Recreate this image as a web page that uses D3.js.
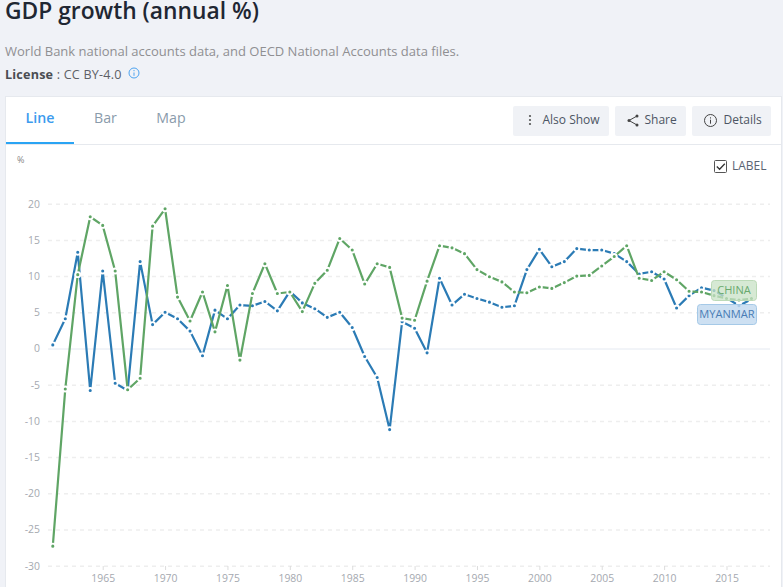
<!DOCTYPE html>
<html><head><meta charset="utf-8">
<script src="https://d3js.org/d3.v7.min.js"></script>
<style>
html,body{margin:0;padding:0;background:#f0f2f7;overflow:hidden}
svg{display:block;font-family:"Open Sans",sans-serif}
</style></head><body><div id="chart"></div>
<script>
const years = d3.range(1961, 2018);
const china = [-27.3,-5.6,10.2,18.2,17.0,10.7,-5.7,-4.1,16.9,19.3,7.1,3.8,7.8,2.3,8.7,-1.6,7.6,11.7,7.6,7.8,5.1,9.0,10.8,15.2,13.6,8.9,11.7,11.2,4.2,3.9,9.3,14.2,13.9,13.1,10.9,9.9,9.2,7.8,7.7,8.5,8.3,9.1,10.0,10.1,11.4,12.7,14.2,9.7,9.4,10.6,9.5,7.9,7.8,7.3,6.9,6.7,6.9];
const myanmar = [0.5,4.1,13.3,-5.8,10.7,-4.8,-5.8,12.0,3.3,5.0,4.1,2.4,-1.0,5.3,4.1,6.0,5.9,6.5,5.2,7.9,6.3,5.5,4.3,5.0,2.9,-1.1,-4.0,-11.2,3.7,2.8,-0.6,9.7,6.0,7.5,6.9,6.4,5.7,5.9,10.9,13.7,11.3,12.0,13.8,13.6,13.6,13.1,12.0,10.3,10.6,9.6,5.6,7.3,8.4,8.0,7.0,5.9,6.8];
const yTicks = [20,15,10,5,0,-5,-10,-15,-20,-25,-30];
const xTicks = [1965,1970,1975,1980,1985,1990,1995,2000,2005,2010,2015];
const tabs = ["Line","Bar","Map"];
const seriesNames = ["MYANMAR","CHINA"];
const blue="#2b7bb5", green="#5fa565";

const svg=d3.select("#chart").append("svg").attr("width",783).attr("height",587);
svg.append("text").attr("x",5).attr("y",19).attr("font-size",22.8).attr("font-weight",600).attr("fill","#1f2733").text("GDP growth (annual %)");
svg.append("text").attr("x",5).attr("y",56).attr("font-size",13).attr("fill","#8f8f92").text("World Bank national accounts data, and OECD National Accounts data files.");
const lic=svg.append("text").attr("x",5).attr("y",79).attr("font-size",12.6).attr("letter-spacing",0.2).attr("fill","#5d6066");
lic.append("tspan").attr("font-weight",700).attr("fill","#4a4d52").text("License");
lic.append("tspan").text(" : CC BY-4.0");
const inf=svg.append("g").attr("transform","translate(134,73)").attr("stroke","#4da3f0").attr("fill","none");
inf.append("circle").attr("r",5);
inf.append("path").attr("d","M0,-0.5V2.8M0,-3V-1.8");

svg.append("rect").attr("x",5.5).attr("y",96.5).attr("width",776).attr("height",500).attr("fill","#fff").attr("stroke","#e6e9ee");
svg.append("line").attr("x1",6).attr("x2",781).attr("y1",144.5).attr("y2",144.5).attr("stroke","#e6e9ee");
svg.append("rect").attr("x",6).attr("y",142).attr("width",68).attr("height",2).attr("fill","#2aa4f4");
const tabX=d3.scaleOrdinal().domain(tabs).range([40,105.5,171]);
svg.selectAll(".tab").data(tabs).join("text").attr("x",d=>tabX(d)).attr("y",123).attr("text-anchor","middle")
 .attr("font-size",14.2).attr("font-weight",d=>d==="Line"?600:400).attr("fill",d=>d==="Line"?"#3c9bee":"#8a9bab").text(d=>d);

function btn(x,w,label,tx){
  svg.append("rect").attr("x",x).attr("y",106).attr("width",w).attr("height",30).attr("rx",2).attr("fill","#f0f2f6");
  svg.append("text").attr("x",tx).attr("y",124).attr("font-size",12).attr("fill","#4c5563").text(label);
}
btn(513,96,"Also Show",542.5);
btn(615,71,"Share",644.5);
btn(692,79,"Details",723.5);
svg.append("g").attr("fill","#555").selectAll("circle").data([116,120,124]).join("circle").attr("cx",530).attr("cy",d=>d).attr("r",1.1);
const sh=svg.append("g").attr("stroke","#444").attr("fill","#444");
sh.append("path").attr("d","M637,116L629,120.5L637,125").attr("fill","none").attr("stroke-width",1);
[[637,116],[629,120.5],[637,125]].forEach(p=>sh.append("circle").attr("cx",p[0]).attr("cy",p[1]).attr("r",1.5).attr("stroke","none"));
const de=svg.append("g").attr("transform","translate(710.5,120.5)").attr("fill","none").attr("stroke","#444").attr("stroke-width",1);
de.append("circle").attr("r",6);
de.append("path").attr("d","M0,-0.8V3.2M0,-3.2V-2");

svg.append("text").attr("x",17).attr("y",163).attr("font-size",9).attr("fill","#888").text("%");
svg.append("rect").attr("x",714.5).attr("y",160.5).attr("width",12).attr("height",12).attr("rx",1).attr("fill","#fff").attr("stroke","#555");
svg.append("path").attr("d","M716.8,166.5L719.6,169.3L724.8,163.8").attr("fill","none").attr("stroke","#333").attr("stroke-width",1.3);
svg.append("text").attr("x",732).attr("y",170).attr("font-size",12).attr("fill","#5b6472").text("LABEL");

const x=d3.scaleLinear().domain([1965,2015]).range([102.7,726.5]);
const y=d3.scaleLinear().domain([-30,20]).range([565.7,203.7]);

const gridAxis=svg.append("g").attr("transform","translate(40,0)")
 .call(d3.axisLeft(y).tickValues(yTicks).tickFormat(d3.format("d")).tickSize(0).tickPadding(0));
gridAxis.select(".domain").remove();
gridAxis.selectAll("text").attr("font-family","Open Sans").attr("font-size",10.4).attr("fill","#a5a9b0").attr("dy","0.33em").text(d=>d);
gridAxis.selectAll(".tick").append("line").attr("x1",8).attr("x2",730)
 .attr("stroke",d=>d===0?"#e4e9f1":"#eeeeee").attr("stroke-width",d=>d===0?1:1.5).attr("stroke-dasharray",d=>d===0?null:"4 4");

const xAxis=svg.append("g").attr("transform","translate(0,566)")
 .call(d3.axisBottom(x).tickValues(xTicks).tickFormat(d3.format("d")).tickSize(4).tickPadding(5));
xAxis.select(".domain").remove();
xAxis.selectAll("line").attr("stroke","#dddddd");
xAxis.selectAll("text").attr("font-family","Open Sans").attr("font-size",10.4).attr("fill","#a5a9b0");

const line=d3.line().x((d,i)=>x(years[i])).y(d=>y(d));
[[myanmar,blue],[china,green]].forEach(([vals,col])=>{
  const g=svg.append("g");
  g.append("path").attr("d",line(vals)).attr("fill","none").attr("stroke",col).attr("stroke-width",2.2).attr("stroke-linejoin","round");
  g.selectAll("circle").data(vals).join("circle").attr("cx",(d,i)=>x(years[i])).attr("cy",d=>y(d)).attr("r",2.5)
   .attr("fill",col).attr("stroke","#fff").attr("stroke-width",1.9);
});

const labelBoxes=[
 {name:seriesNames[1],x0:711.5,w:45,y0:280.5,h:20,fill:"rgba(200,226,198,.75)",stroke:"#bcdab8",text:"#6aa96e"},
 {name:seriesNames[0],x0:697.5,w:59,y0:304.5,h:20,fill:"rgba(196,219,240,.85)",stroke:"#a5c9e7",text:"#4a7db5"}
];
const lb=svg.append("g").selectAll("g").data(labelBoxes).join("g");
lb.append("rect").attr("x",d=>d.x0).attr("y",d=>d.y0).attr("width",d=>d.w).attr("height",d=>d.h).attr("rx",3)
 .attr("fill",d=>d.fill).attr("stroke",d=>d.stroke);
lb.append("text").attr("x",d=>d.x0+d.w/2).attr("y",d=>d.y0+13.5).attr("text-anchor","middle").attr("font-size",11.1).attr("fill",d=>d.text).text(d=>d.name);
</script></body></html>
